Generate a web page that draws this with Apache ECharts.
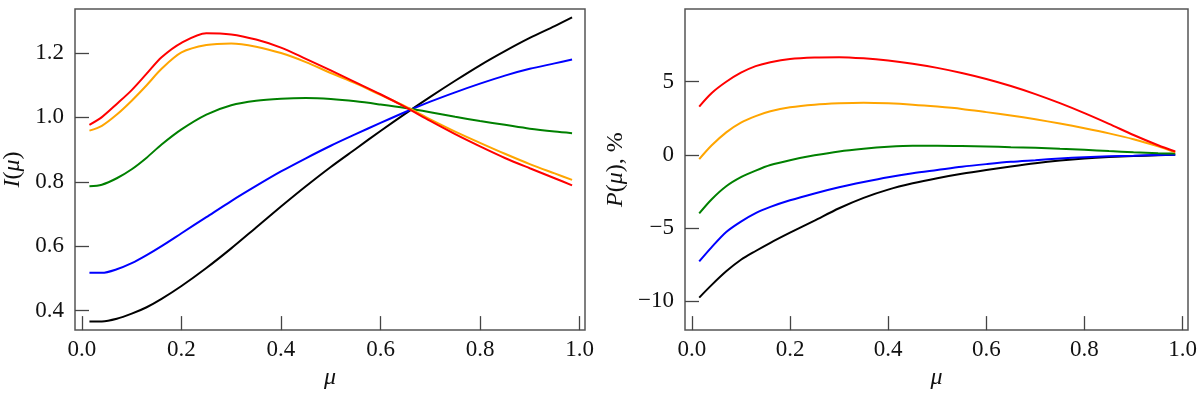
<!DOCTYPE html>
<html>
<head>
<meta charset="utf-8">
<script src="https://cdn.jsdelivr.net/npm/echarts@6/dist/echarts.min.js"></script>
<style>
  html, body { margin: 0; padding: 0; background: #fff; }
  #main { width: 1200px; height: 395px; }
</style>
</head>
<body>
<div id="main"></div>
<script>
// mu grid shared by every curve
var mu = [0.015, 0.04, 0.07, 0.1, 0.13, 0.16, 0.2, 0.25, 0.3, 0.35, 0.4, 0.45, 0.5,
          0.55, 0.6, 0.65, 0.7, 0.75, 0.8, 0.85, 0.9, 0.95, 0.985];

// left panel: I(mu)
var iBlack  = [0.366, 0.366, 0.374, 0.390, 0.410, 0.436, 0.476, 0.532, 0.593, 0.658, 0.723, 0.786, 0.846, 0.902, 0.958, 1.012, 1.064, 1.114, 1.162, 1.206, 1.247, 1.284, 1.311];
var iBlue   = [0.517, 0.517, 0.528, 0.547, 0.572, 0.600, 0.640, 0.690, 0.740, 0.787, 0.832, 0.873, 0.912, 0.948, 0.983, 1.017, 1.049, 1.078, 1.105, 1.130, 1.151, 1.168, 1.180];
var iGreen  = [0.786, 0.791, 0.811, 0.839, 0.875, 0.916, 0.963, 1.009, 1.038, 1.052, 1.058, 1.060, 1.057, 1.050, 1.040, 1.029, 1.016, 1.002, 0.989, 0.977, 0.965, 0.956, 0.951];
var iOrange = [0.959, 0.974, 1.009, 1.052, 1.100, 1.151, 1.202, 1.225, 1.230, 1.220, 1.200, 1.172, 1.138, 1.106, 1.070, 1.034, 0.994, 0.956, 0.921, 0.887, 0.855, 0.826, 0.806];
var iRed    = [0.977, 1.001, 1.042, 1.085, 1.136, 1.187, 1.232, 1.262, 1.258, 1.242, 1.217, 1.182, 1.146, 1.109, 1.072, 1.032, 0.989, 0.948, 0.910, 0.874, 0.842, 0.811, 0.789];

// right panel: P(mu), %
var pBlack  = [-9.75, -8.90, -7.96, -7.17, -6.57, -6.01, -5.32, -4.49, -3.65, -2.94, -2.38, -1.95, -1.60, -1.30, -1.04, -0.80, -0.58, -0.40, -0.26, -0.16, -0.09, -0.04, 0.00];
var pBlue   = [-7.28, -6.32, -5.27, -4.56, -3.98, -3.56, -3.11, -2.64, -2.22, -1.86, -1.53, -1.26, -1.04, -0.82, -0.64, -0.48, -0.37, -0.26, -0.17, -0.10, -0.06, -0.01, 0.00];
var pGreen  = [-4.00, -3.05, -2.15, -1.53, -1.08, -0.70, -0.37, -0.04, 0.23, 0.41, 0.54, 0.61, 0.61, 0.59, 0.57, 0.52, 0.48, 0.41, 0.34, 0.25, 0.17, 0.10, 0.08];
var pOrange = [-0.30, 0.63, 1.53, 2.19, 2.64, 2.97, 3.24, 3.42, 3.51, 3.55, 3.51, 3.42, 3.29, 3.13, 2.91, 2.68, 2.42, 2.13, 1.81, 1.46, 1.06, 0.57, 0.17];
var pRed    = [3.29, 4.20, 4.98, 5.60, 6.05, 6.32, 6.54, 6.64, 6.66, 6.58, 6.43, 6.21, 5.93, 5.58, 5.17, 4.69, 4.14, 3.52, 2.84, 2.11, 1.35, 0.65, 0.22];

// tick labels
var xTicks = [0, 0.2, 0.4, 0.6, 0.8, 1.0];
var iTicks = [0.4, 0.6, 0.8, 1.0, 1.2];
var pTicks = [-10, -5, 0, 5];

var colors = ['#000000', '#0000ff', '#008000', '#ffa500', '#ff0000'];
var FONT = '"Liberation Serif", "DejaVu Serif", serif';

function pairs(ys) {
  return mu.map(function (m, i) { return [m, ys[i]]; });
}

function xAxisFor(idx) {
  return {
    type: 'value', gridIndex: idx, min: -0.014, max: 1.011,
    name: 'μ', nameLocation: 'middle', nameGap: 29,
    nameTextStyle: { fontFamily: FONT, fontSize: 24, fontStyle: 'italic', color: '#111' },
    axisLine: { show: false, onZero: false },
    splitLine: { show: false },
    axisTick: { show: true, inside: true, length: 14, customValues: xTicks,
                lineStyle: { color: '#444', width: 1.3 } },
    axisLabel: { show: true, margin: 8, customValues: xTicks, color: '#111',
                 fontFamily: FONT, fontSize: 23,
                 formatter: function (v) { return v.toFixed(1); } }
  };
}

function yAxisFor(idx, min, max, ticks, name, gap, fmt) {
  return {
    type: 'value', gridIndex: idx, min: min, max: max,
    name: name, nameLocation: 'middle', nameGap: gap, nameRotate: 90,
    nameTextStyle: { fontFamily: FONT, fontSize: 24, color: '#111',
                     rich: { i: { fontFamily: FONT, fontSize: 24, fontStyle: 'italic', color: '#111' } } },
    axisLine: { show: false, onZero: false },
    splitLine: { show: false },
    axisTick: { show: true, inside: true, length: 14, customValues: ticks,
                lineStyle: { color: '#444', width: 1.3 } },
    axisLabel: { show: true, margin: 11, customValues: ticks, color: '#111',
                 fontFamily: FONT, fontSize: 23, formatter: fmt }
  };
}

var chart = echarts.init(document.getElementById('main'));

var series = [];
[iBlack, iBlue, iGreen, iOrange, iRed].forEach(function (ys, k) {
  series.push({ type: 'line', xAxisIndex: 0, yAxisIndex: 0, data: pairs(ys),
                showSymbol: false, smooth: 0.3, lineStyle: { color: colors[k], width: 2 } });
});
[pBlack, pBlue, pGreen, pOrange, pRed].forEach(function (ys, k) {
  series.push({ type: 'line', xAxisIndex: 1, yAxisIndex: 1, data: pairs(ys),
                showSymbol: false, smooth: 0.3, lineStyle: { color: colors[k], width: 2 } });
});

var option = {
  animation: false,
  backgroundColor: '#fff',
  grid: [
    { left: 73, right: 615, top: 9, bottom: 58, show: true, borderColor: '#555', borderWidth: 1.5, backgroundColor: 'transparent' },
    { left: 685, right: 12, top: 9, bottom: 58, show: true, borderColor: '#555', borderWidth: 1.5, backgroundColor: 'transparent' }
  ],
  xAxis: [xAxisFor(0), xAxisFor(1)],
  yAxis: [
    yAxisFor(0, 0.339, 1.337, iTicks, '{i|I}({i|μ})', 50,
             function (v) { return v.toFixed(1); }),
    yAxisFor(1, -11.97, 9.95, pTicks, '{i|P}({i|μ}), %', 57,
             function (v) { return v < 0 ? '\u2212' + Math.abs(v) : String(v); })
  ],
  series: series
};

chart.setOption(option);
</script>
</body>
</html>
